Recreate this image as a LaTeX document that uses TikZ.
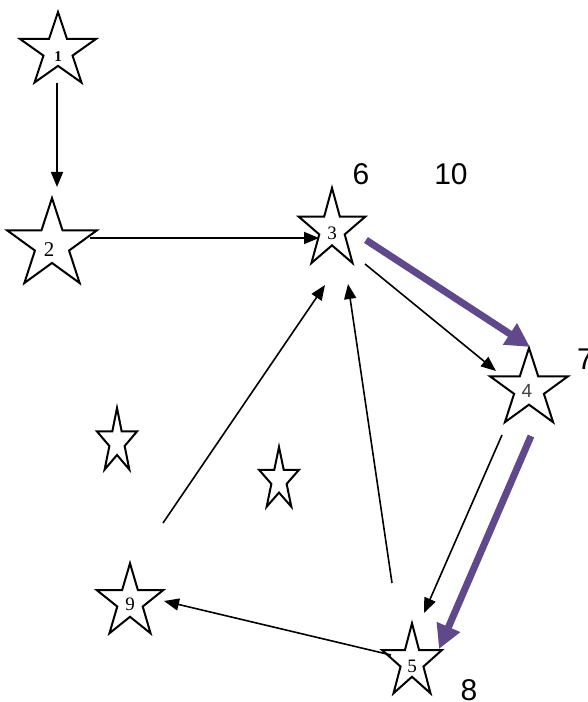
\documentclass[tikz,border=0pt]{standalone}
\usepackage{fontspec}
\setmainfont{Liberation Serif}
\newfontfamily\arialfont{Liberation Sans}
\usetikzlibrary{arrows.meta,calc}

\definecolor{routepurple}{RGB}{95,73,139}

\tikzset{
  starline/.style={line width=2pt, line join=miter},
  edge/.style={line width=1.6pt, -{Triangle[length=15pt,width=12pt]}},
  route/.style={routepurple, line width=7pt, -{Triangle[length=24pt,width=24pt]}},
  numlabel/.style={font=\fontsize{19}{19}\selectfont, inner sep=0pt},
  steplabel/.style={font=\arialfont\fontsize{30}{30}\selectfont, inner sep=0pt},
}

% star outline: name, x, y, x radius, y radius
\newcommand{\drawstar}[5]{%
  \coordinate (#1) at (#2,#3);
  \draw[starline] (#1) +(0,#5)
    \foreach \k [evaluate=\k as \f using {1-0.618*mod(\k,2)}] in {1,...,9}
      { -- +({\f*#4*cos(90+36*\k)},{\f*#5*sin(90+36*\k)}) } -- cycle;}

\begin{document}
\begin{tikzpicture}[x=1pt, y=1pt]
    \useasboundingbox (0,0) rectangle (587,702);

    % Stars
    \drawstar{s1}{58}{651}{40}{39}
    \drawstar{s2}{52}{457}{47}{47}
    \drawstar{s3}{332}{472.5}{35}{41.5}
    \drawstar{s4}{529}{313}{41}{41}
    \drawstar{s5}{412}{40}{31.5}{38.7}
    \drawstar{s9}{130}{100}{35}{38.7}
    \drawstar{sa}{117}{260}{21}{34}
    \drawstar{sb}{279}{222}{21}{33}

    % Numbers inside the stars
    \node[numlabel, font=\bfseries\fontsize{15}{15}\selectfont] (n1) at ($(s1)+(0,-6)$) {1};
    \node[numlabel, font=\fontsize{21}{21}\selectfont] (n2) at ($(s2)+(-3,-5)$) {2};
    \node[numlabel] (n3) at ($(s3)+(0,-3.5)$) {3};
    \node[numlabel, font=\arialfont\fontsize{19}{19}\selectfont, text=black!75] (n4) at ($(s4)+(-2,-2)$) {4};
    \node[numlabel] (n5) at ($(s5)+(0,-4)$) {5};
    \node[numlabel] (n9) at ($(s9)+(0,-2)$) {9};

    % Step numbers
    \node[steplabel] (t6) at (361,528) {6};
    \node[steplabel] (t10) at (451,528) {10};
    \node[steplabel, anchor=west] (t7) at (577,343) {7};
    \node[steplabel] (t8) at (469,12) {8};

    % Thin arrows
    \draw[edge] ($(s1)+(-1,-32)$) -- ($(s2)+(5,58)$);
    \draw[edge] ($(s2)+(38,7)$) -- ($(s3)+(-13,-8.5)$);
    \draw[edge] ($(s3)+(33,-34.5)$) -- ($(s4)+(-33,18)$);
    \draw[edge] ($(s4)+(-27,-46)$) -- ($(s5)+(12,49)$);
    \draw[edge] ($(s5)+(-21,7)$) -- ($(s9)+(34,1)$);
    \draw[edge] ($(s5)+(-20,79)$) -- ($(s3)+(16,-54.5)$);
    \draw[edge] ($(s9)+(33,79)$) -- ($(s3)+(-7,-55.5)$);

    % Highlighted route
    \draw[route] ($(s3)+(34,-10.5)$) -- ($(s4)+(1,42)$);
    \draw[route] ($(s4)+(2,-47)$) -- ($(s5)+(27,13)$);
\end{tikzpicture}
\end{document}
